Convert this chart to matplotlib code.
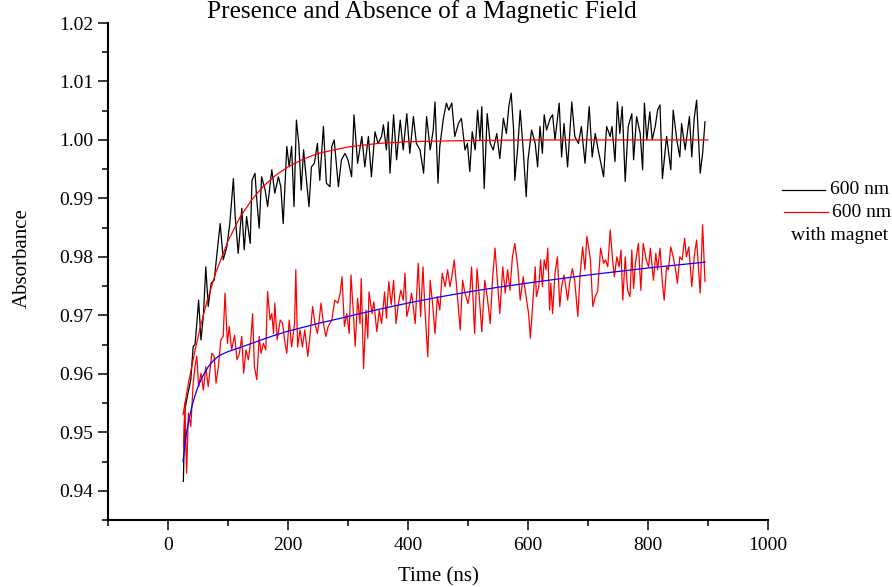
import matplotlib
matplotlib.use("Agg")
import matplotlib.pyplot as plt
from matplotlib.ticker import MultipleLocator, FormatStrFormatter
from matplotlib.lines import Line2D

plt.rcParams['font.family'] = ['Liberation Serif', 'DejaVu Serif']

# ---- data ----
title = "Presence and Absence of a Magnetic Field"
x_label = "Time (ns)"
y_label = "Absorbance"
legend_labels = ["600 nm", "600 nm\nwith magnet"]

# 600 nm (no magnet) raw trace
t_black = [25.6, 28, 32, 38, 42, 45, 48, 51, 55, 59, 63, 67, 72, 77, 81, 84,
           87, 92, 98, 103, 109, 112, 117, 123, 127, 131, 137, 140, 145, 148, 152,
           156, 162, 166, 173, 178, 184, 188, 192, 198, 202, 206, 210, 214, 218,
           222, 226, 228, 235, 239, 244, 249, 253, 259, 264, 270, 273, 277, 284,
           289, 295, 300, 306, 310, 316, 323, 328, 334, 339, 345, 350, 356, 359,
           364, 367, 370, 376, 381, 387, 392, 398, 403, 409, 414, 420, 426, 431,
           437, 442, 445, 450, 453, 459, 464, 468, 473, 478, 484, 489, 495, 499,
           503, 507, 512, 516, 520, 523, 527, 532, 537, 542, 548, 553, 559, 564,
           568, 572, 576, 578, 583, 587, 592, 597, 600, 606, 612, 616, 620, 624,
           627, 631, 637, 641, 645, 652, 656, 660, 666, 673, 678, 684, 689, 695,
           702, 707, 712, 717, 726, 731, 737, 740, 745, 749, 753, 757, 762, 767,
           773, 776, 781, 787, 791, 794, 798, 803, 807, 812, 816, 820, 824, 831,
           838, 842, 848, 853, 856, 862, 864, 869, 873, 877, 881, 887, 891, 895]
a_black = [0.9416, 0.9538, 0.9560, 0.9590, 0.9647, 0.9650, 0.9686, 0.9726, 0.9658,
           0.9700, 0.9783, 0.9715, 0.9755, 0.9760, 0.9800, 0.9829,
           0.9857, 0.9795, 0.9817, 0.9857, 0.9934, 0.9869, 0.9806, 0.9883, 0.9812,
           0.9869, 0.9823, 0.9931, 0.9943, 0.9897, 0.9849,
           0.9937, 0.9914, 0.9886, 0.9949, 0.9909, 0.9937, 0.9920, 0.9857, 0.9989,
           0.9954, 0.9989, 0.9886, 1.0034, 0.9994,
           0.9914, 0.9983, 0.9960, 0.9886, 0.9954, 0.9960, 0.9994, 0.9931, 1.0023,
           0.9926, 0.9920, 0.9989, 1.0000, 0.9920,
           0.9966, 0.9977, 0.9966, 0.9937, 1.0043, 0.9960, 1.0006, 0.9954, 1.0006,
           0.9937, 1.0014, 0.9994, 1.0006, 1.0026,
           0.9983, 1.0031, 0.9943, 1.0043, 0.9966, 1.0034, 0.9983, 1.0045, 0.9977,
           1.0040, 0.9994, 0.9983, 0.9943, 1.0040,
           0.9983, 1.0017, 1.0065, 0.9926, 0.9989, 1.0037, 1.0063, 1.0051, 1.0063,
           1.0006, 1.0028, 1.0037, 0.9983, 0.9994,
           0.9946, 1.0014, 0.9983, 1.0051, 1.0000, 1.0057, 0.9917, 1.0045, 0.9994,
           0.9983, 1.0011, 0.9968, 1.0037, 1.0011,
           1.0057, 1.0080, 1.0017, 0.9931, 0.9989, 1.0051, 0.9983, 0.9903, 0.9966,
           1.0017, 0.9994, 0.9954, 1.0023, 0.9977,
           1.0043, 1.0017, 1.0037, 1.0043, 1.0000, 1.0063, 0.9971, 1.0028, 0.9954,
           1.0065, 1.0006, 0.9994, 1.0023, 0.9960,
           1.0057, 0.9971, 1.0011, 0.9983, 0.9937, 1.0023, 1.0006, 1.0023, 0.9963,
           1.0065, 1.0011, 1.0057, 0.9929, 1.0023,
           1.0045, 0.9966, 1.0040, 1.0011, 0.9949, 1.0063, 1.0000, 1.0048, 1.0000,
           1.0023, 1.0051, 1.0060, 0.9934, 1.0006,
           0.9949, 1.0051, 1.0000, 0.9971, 1.0028, 0.9983, 1.0000, 1.0040, 0.9971,
           1.0037, 1.0068, 0.9943, 0.9977, 1.0031]

# fit of the 600 nm trace
t_black_fit = [25, 30, 35, 45, 55, 65, 80, 100, 120, 140, 160, 180, 200, 225,
               250, 300, 350, 400, 450, 500, 600, 700, 800, 900]
a_black_fit = [0.9530, 0.9560, 0.9589, 0.9640, 0.9685, 0.9724, 0.9774, 0.9827,
               0.9868, 0.9898, 0.9922, 0.9940, 0.9954, 0.9967, 0.9977, 0.9988,
               0.9994, 0.9997, 0.9998, 0.9999, 1.0000, 1.0000, 1.0000, 1.0000]

# 600 nm with magnet raw trace
t_red = [26, 28, 31, 34, 38, 42, 45, 48, 51, 55, 59, 63, 67, 73, 77, 80, 84, 88,
         92, 95, 99, 102, 106, 111, 115, 119, 123, 126, 130, 134, 138, 141, 144,
         148, 152, 155, 159, 163, 166, 170, 173, 176, 178, 182, 187, 191, 195,
         198, 202, 206, 211, 213, 216, 220, 224, 228, 233, 237, 241, 245, 249,
         252, 255, 259, 263, 267, 273, 278, 283, 287, 290, 294, 298, 302, 305,
         309, 312, 316, 320, 322, 326, 330, 333, 335, 340, 343, 348, 352, 356,
         361, 364, 368, 372, 376, 380, 384, 388, 392, 395, 398, 403, 406, 412,
         417, 421, 425, 428, 433, 437, 441, 445, 449, 453, 457, 462, 466, 470,
         474, 477, 481, 487, 491, 495, 500, 503, 506, 511, 515, 518, 523, 528,
         532, 537, 541, 545, 549, 553, 558, 562, 566, 570, 574, 578, 583, 587,
         592, 596, 601, 604, 609, 612, 614, 618, 621, 624, 627, 630, 633, 636,
         638, 641, 645, 649, 653, 656, 660, 663, 666, 670, 674, 678, 683, 687,
         691, 695, 698, 701, 704, 708, 712, 716, 721, 726, 729, 733, 737, 741,
         744, 748, 752, 755, 758, 762, 766, 770, 773, 776, 779, 784, 788, 792,
         797, 801, 804, 809, 813, 816, 820, 824, 827, 831, 834, 838, 842, 846,
         849, 853, 857, 861, 864, 868, 873, 877, 881, 884, 887, 891, 895]
a_red = [0.9475, 0.9550, 0.9430, 0.9533, 0.9510, 0.9584, 0.9612, 0.9630, 0.9578,
         0.9601, 0.9572, 0.9612, 0.9578, 0.9635, 0.9630, 0.9584, 0.9612, 0.9658,
         0.9664, 0.9738, 0.9652, 0.9681, 0.9641, 0.9666, 0.9624, 0.9635, 0.9664,
         0.9601, 0.9641, 0.9624, 0.9658, 0.9703, 0.9612,
         0.9590, 0.9664, 0.9635, 0.9652, 0.9641, 0.9741, 0.9692, 0.9703, 0.9669,
         0.9721, 0.9658, 0.9692, 0.9686, 0.9652,
         0.9635, 0.9692, 0.9646, 0.9686, 0.9778, 0.9646, 0.9675, 0.9646, 0.9675,
         0.9630, 0.9669, 0.9715, 0.9686, 0.9669,
         0.9692, 0.9721, 0.9686, 0.9664, 0.9681, 0.9692, 0.9726, 0.9721, 0.9738,
         0.9766, 0.9681, 0.9703, 0.9669, 0.9769,
         0.9703, 0.9647, 0.9729, 0.9686, 0.9763, 0.9609, 0.9709, 0.9661, 0.9740,
         0.9703, 0.9723, 0.9672, 0.9709, 0.9686,
         0.9740, 0.9695, 0.9758, 0.9718, 0.9760, 0.9686, 0.9720, 0.9743, 0.9726,
         0.9772, 0.9698, 0.9720, 0.9738, 0.9686,
         0.9789, 0.9698, 0.9783, 0.9715, 0.9629, 0.9760, 0.9720, 0.9669, 0.9732,
         0.9709, 0.9772, 0.9749, 0.9778, 0.9749,
         0.9772, 0.9795, 0.9749, 0.9675, 0.9760, 0.9738, 0.9720, 0.9738, 0.9783,
         0.9669, 0.9780, 0.9743, 0.9672, 0.9760,
         0.9732, 0.9686, 0.9763, 0.9815, 0.9758, 0.9703, 0.9783, 0.9738, 0.9778,
         0.9743, 0.9800, 0.9823, 0.9783, 0.9726,
         0.9766, 0.9738, 0.9703, 0.9661, 0.9738, 0.9783, 0.9732, 0.9749, 0.9795,
         0.9749, 0.9795, 0.9778, 0.9815, 0.9709,
         0.9755, 0.9703, 0.9772, 0.9800, 0.9715, 0.9749, 0.9769, 0.9749, 0.9726,
         0.9760, 0.9780, 0.9758, 0.9698, 0.9772,
         0.9817, 0.9778, 0.9835, 0.9817, 0.9795, 0.9715, 0.9732, 0.9741, 0.9815,
         0.9789, 0.9795, 0.9783, 0.9846, 0.9795,
         0.9766, 0.9800, 0.9783, 0.9812, 0.9726, 0.9800, 0.9743, 0.9732, 0.9812,
         0.9746, 0.9789, 0.9823, 0.9743, 0.9823,
         0.9795, 0.9783, 0.9815, 0.9760, 0.9806, 0.9778, 0.9815, 0.9755, 0.9726,
         0.9783, 0.9778, 0.9817, 0.9800, 0.9778,
         0.9755, 0.9800, 0.9795, 0.9832, 0.9800, 0.9817, 0.9749, 0.9800, 0.9829,
         0.9783, 0.9738, 0.9855, 0.9758]

# fit of the with-magnet trace
t_red_fit = [25, 28, 31, 35, 40, 45, 50, 55, 60, 67, 75, 85, 100, 123, 150, 178,
             200, 250, 312, 350, 400, 450, 500, 550, 612, 700, 800, 895]
a_red_fit = [0.9450, 0.9475, 0.9500, 0.9522, 0.9545, 0.9563, 0.9578, 0.9590,
             0.9600, 0.9612, 0.9622, 0.9631, 0.9638, 0.9646, 0.9656, 0.9666,
             0.9673, 0.9686, 0.9701, 0.9710, 0.9721, 0.9731, 0.9740, 0.9748,
             0.9757, 0.9769, 0.9781, 0.9791]

# ---- figure ----
W, H = 892, 587
fig = plt.figure(figsize=(W / 100, H / 100), dpi=100)
ax = fig.add_axes([108 / W, 1 - 520 / H, 660 / W, 497 / H])

ax.plot(t_black, a_black, color='black', lw=0.9)
ax.plot(t_black_fit, a_black_fit, color='red', lw=0.9)
ax.plot(t_red, a_red, color='red', lw=0.9)
ax.plot(t_red_fit, a_red_fit, color='blue', lw=0.9)

ax.set_xlim(-100, 1000)
ax.set_ylim(0.935, 1.02)
ax.xaxis.set_major_locator(MultipleLocator(200))
ax.xaxis.set_minor_locator(MultipleLocator(100))
ax.yaxis.set_major_locator(MultipleLocator(0.01))
ax.yaxis.set_minor_locator(MultipleLocator(0.005))
ax.yaxis.set_major_formatter(FormatStrFormatter('%.2f'))

for s in ['top', 'right']:
    ax.spines[s].set_visible(False)
for s in ['left', 'bottom']:
    ax.spines[s].set_linewidth(1.5)

ax.tick_params(which='major', direction='out', length=7.5, width=1.1,
               labelsize=14, pad=3)
ax.tick_params(which='minor', direction='out', length=4, width=1.1)
ax.tick_params(axis='x', which='major', pad=5)

# axis labels placed as in the reference
fig.text(438 / W, 1 - 577 / H, x_label, fontsize=15, ha='center', va='center')
fig.text(22 / W, 1 - 258 / H, y_label, fontsize=15, ha='center', va='center',
         rotation=90)

fig.text(422 / W, 1 - 18 / H, title, fontsize=18.2,
         ha='center', va='baseline')

# Origin-style legend outside right
leg = [('black', 190, 782, 825), ('red', 212, 784, 828)]
for (c, y, x0, x1) in leg:
    fig.add_artist(Line2D([x0 / W, x1 / W], [1 - y / H, 1 - y / H],
                          color=c, lw=0.9, transform=fig.transFigure))
fig.text(830 / W, 1 - 190 / H, legend_labels[0].split('\n')[0], fontsize=14,
         ha='left', va='center')
fig.text(832 / W, 1 - 212 / H, legend_labels[1].split('\n')[0], fontsize=14,
         ha='left', va='center')
fig.text(840 / W, 1 - 236 / H, legend_labels[1].split('\n')[1], fontsize=14,
         ha='center', va='center')

fig.savefig('out.png', dpi=100)
